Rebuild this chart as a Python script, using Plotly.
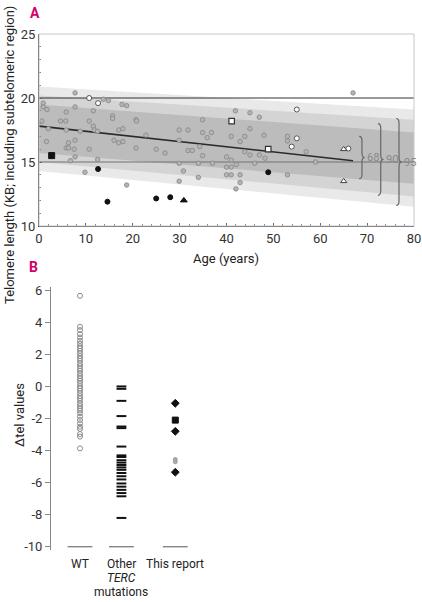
import numpy as np
import plotly.graph_objects as go

W, H = 422, 602
FONT = "Roboto, Liberation Sans, sans-serif"
MAG = "#d1006b"

# ---------------- Panel A data ----------------
gray_age = [0.9, 0.9, 1.7, 7.7, 7.7, 5.8, 11.6, 0.6, 4.6, 5.7, 10.7, 11.6, 11.8, 12.5, 15.7, 15.7,
            5.8, 8.8, 17.0, 17.9, 1.6, 6.3, 7.7, 5.8, 6.3, 7.5, 10.7, 16.0, 17.0, 17.9, 7.7, 6.7,
            12.5, 9.8, 18.7, 20.7, 20.7, 22.8, 25.0, 26.9, 29.9, 31.8, 29.9, 29.9, 30.8, 29.9,
            31.8, 32.7, 34.3, 34.9, 34.9, 35.9, 36.8, 34.9, 34.0, 34.0, 37.0, 41.9, 45.0, 47.0,
            45.0, 41.0, 42.9, 43.9, 48.0, 43.9, 45.0, 47.0, 48.2, 40.0, 41.0, 42.1, 40.0, 41.0,
            40.0, 41.0, 42.9, 42.9, 42.0, 53.0, 53.0, 57.0, 59.0, 46.0, 67.0, 13.7, 14.8,
            17.7, 18.7, 53.0, 2.0, 20.8]
gray_tel = [19.6, 19.3, 19.1, 20.4, 19.3, 18.9, 19.0, 18.2, 18.2, 18.2, 18.2, 17.8, 17.5, 17.4, 18.6, 18.4,
            17.5, 17.4, 17.5, 17.6, 16.6, 16.5, 16.7, 16.1, 16.1, 16.0, 16.0, 16.7, 16.5, 16.6, 15.4, 15.1,
            15.2, 14.2, 13.2, 18.3, 16.1, 17.1, 16.0, 15.7, 17.5, 17.5, 16.7, 14.9, 14.3, 13.5,
            15.9, 15.9, 16.2, 18.3, 17.3, 16.9, 17.3, 15.5, 14.9, 13.8, 14.9, 19.0, 18.85, 18.5,
            17.6, 17.0, 16.6, 17.0, 17.1, 15.8, 15.55, 15.55, 15.3, 15.4, 15.15, 14.8, 14.6, 14.6,
            14.0, 14.0, 14.0, 13.4, 12.9, 17.0, 16.65, 15.8, 15.0, 14.9, 20.4, 19.9, 19.8,
            19.5, 19.4, 14.0, 17.6, 18.2]
open_circ_age = [10.7, 12.6, 55.0, 55.0, 53.9, 66.0]
open_circ_tel = [20.0, 19.6, 19.1, 16.85, 16.2, 16.05]
open_sq_age = [41.1, 48.9]
open_sq_tel = [18.2, 16.0]
black_circ_age = [12.6, 14.6, 25.0, 28.0, 48.9]
black_circ_tel = [14.45, 11.9, 12.15, 12.25, 14.2]
black_sq_age = [2.7]
black_sq_tel = [15.5]
black_tri_age = [30.9]
black_tri_tel = [12.0]
open_tri_age = [65.0, 65.0]
open_tri_tel = [16.0, 13.5]

# regression line of plotted points
reg_intercept, reg_slope, reg_end = 17.8, -0.0403, 67.0
# percentile bands: centre and half widths at age 0 and age 80
band_centre = (17.6, 15.3)
band_names = ["95", "90", "68"]
band_half0 = [3.3, 2.6, 1.9]
band_half80 = [3.8, 3.0, 2.0]
band_colors = ["#e9e9e9", "#d4d4d4", "#bcbcbc"]
# bracket (curly brace) positions and spans
brace_age = [68.3, 72.3, 76.2]
brace_top = [17.0, 18.0, 18.4]
brace_bot = [13.7, 12.4, 11.6]
brace_lab = ["68", "90", "95"]

# ---------------- Panel B data ----------------
cat_lines = [["WT"], ["Other", "<i>TERC</i>", "mutations"], ["This report"]]
cat_pos = [1.0, 2.0, 3.3]
wt_vals = [5.65, 3.72, 3.51, 3.26, 3.05, 2.85, 2.68, 2.51, 2.37, 2.22, 2.06, 1.89, 1.74, 1.60,
           1.43, 1.27, 1.12, 0.98, 0.81, 0.65, 0.50, 0.35, 0.19, 0.02, -0.12, -0.27, -0.43,
           -0.60, -0.74, -0.89, -1.06, -1.22, -1.37, -1.51, -1.68, -1.89, -2.09, -2.30,
           -2.51, -2.65, -2.97, -3.13, -3.86]
terc_vals = [0.0, -0.15, -0.9, -1.85, -2.5, -2.6, -3.75, -4.3, -4.4, -4.6, -4.75, -4.9, -5.05,
             -5.2, -5.4, -5.6, -5.8, -6.05, -6.25, -6.45, -6.65, -6.85, -8.2]
rep_diamond = [-1.05, -2.8, -5.35]
rep_square = [-2.1]
rep_gray = [-4.55, -4.7]

fig = go.Figure()

# bands
ages = np.array([0.0, 80.0])
cen = np.array(band_centre)
for nm, h0, h80, col in zip(band_names, band_half0, band_half80, band_colors):
    hw = np.array([h0, h80])
    xs = np.concatenate([ages, ages[::-1]])
    ys = np.concatenate([cen + hw, (cen - hw)[::-1]])
    fig.add_trace(go.Scatter(x=xs, y=ys, fill="toself", fillcolor=col, mode="lines",
                             line=dict(width=0), hoverinfo="skip", showlegend=False,
                             xaxis="x", yaxis="y"))

# reference horizontal lines at 20 and 15
fig.add_trace(go.Scatter(x=[0, 80], y=[20, 20], mode="lines", line=dict(color="#333", width=1),
                         showlegend=False, xaxis="x", yaxis="y"))
fig.add_trace(go.Scatter(x=[0, 80], y=[15, 15], mode="lines", line=dict(color="#707070", width=1.2),
                         showlegend=False, xaxis="x", yaxis="y"))
# regression
rx = np.array([0.0, reg_end])
fig.add_trace(go.Scatter(x=rx, y=reg_intercept + reg_slope * rx, mode="lines",
                         line=dict(color="#2a2a2a", width=1.6), showlegend=False,
                         xaxis="x", yaxis="y"))

def pts(x, y, symbol, size, fill, line, lw=1, xa="x", ya="y"):
    fig.add_trace(go.Scatter(x=x, y=y, mode="markers", showlegend=False, xaxis=xa, yaxis=ya,
                             marker=dict(symbol=symbol, size=size, color=fill,
                                         line=dict(color=line, width=lw)), cliponaxis=False))

pts(gray_age, gray_tel, "circle", 4.5, "#b4b4b4", "#858585", 0.8)
pts(open_circ_age, open_circ_tel, "circle", 5, "white", "#555", 1)
pts(open_sq_age, open_sq_tel, "square", 5.5, "white", "#333", 1.2)
pts(open_tri_age, open_tri_tel, "triangle-up", 5.5, "white", "#444", 1)
pts(black_circ_age, black_circ_tel, "circle", 5, "#111", "#111", 1)
pts(black_sq_age, black_sq_tel, "square", 6, "#111", "#111", 1)
pts(black_tri_age, black_tri_tel, "triangle-up", 6, "#111", "#111", 1)

# braces
shapes = []
annotations = []
w, d = 0.6, 0.35
for xa, yt, yb, lab in zip(brace_age, brace_top, brace_bot, brace_lab):
    ym = (yt + yb) / 2
    p = (f"M {xa},{yt} Q {xa+w},{yt} {xa+w},{yt-d} L {xa+w},{ym+d} "
         f"Q {xa+w},{ym} {xa+2*w},{ym} Q {xa+w},{ym} {xa+w},{ym-d} "
         f"L {xa+w},{yb+d} Q {xa+w},{yb} {xa},{yb}")
    shapes.append(dict(type="path", path=p, xref="x", yref="y",
                       line=dict(color="#666", width=1.2)))
    annotations.append(dict(x=xa + 2 * w + 0.1, y=ym, xref="x", yref="y", text=lab,
                            showarrow=False, xanchor="left", yanchor="middle",
                            font=dict(family=FONT, size=11, color="#888")))

# frame for panel A
shapes.append(dict(type="rect", xref="x domain", yref="y domain", x0=0, x1=1, y0=0, y1=1,
                   line=dict(color="#c8c8c8", width=1), layer="above"))

# ---------------- Panel B traces ----------------
pts([cat_pos[0]] * len(wt_vals), wt_vals, "circle-open", 5, "#8a8a8a", "#8a8a8a", 1, "x2", "y2")
pts([cat_pos[1]] * len(terc_vals), terc_vals, "line-ew", 7, "#111", "#111", 2, "x2", "y2")
pts([cat_pos[2]] * len(rep_diamond), rep_diamond, "diamond", 6, "#111", "#111", 1, "x2", "y2")
pts([cat_pos[2]] * len(rep_square), rep_square, "square", 6, "#111", "#111", 1, "x2", "y2")
pts([cat_pos[2]] * len(rep_gray), rep_gray, "circle", 4, "#aaa", "#999", 0.8, "x2", "y2")

# baseline segments at -10 under each category
for cp in cat_pos:
    shapes.append(dict(type="line", xref="x2", yref="y2", x0=cp - 0.3, x1=cp + 0.3,
                       y0=-10, y1=-10, line=dict(color="#555", width=1)))

for cp, lines in zip(cat_pos, cat_lines):
    for i, ln in enumerate(lines):
        annotations.append(dict(x=cp, y=1 - (564 + 14 * i) / H, xref="x2", yref="paper",
                                text=ln, showarrow=False, xanchor="center", yanchor="middle",
                                font=dict(family=FONT, size=12, color="#222")))

# panel letters & titles
annotations += [
    dict(x=35 / W, y=1 - 13 / H, xref="paper", yref="paper", text="<b>A</b>", showarrow=False,
         xanchor="center", yanchor="middle", font=dict(family=FONT, size=14, color=MAG)),
    dict(x=33 / W, y=1 - 267 / H, xref="paper", yref="paper", text="<b>B</b>", showarrow=False,
         xanchor="center", yanchor="middle", font=dict(family=FONT, size=14, color=MAG)),
    dict(x=9 / W, y=1 - 155 / H, xref="paper", yref="paper",
         text="Telomere length (KB; including subtelomeric region)", textangle=-90,
         showarrow=False, xanchor="center", yanchor="middle",
         font=dict(family=FONT, size=13, color="#222")),
    dict(x=226 / W, y=1 - 258 / H, xref="paper", yref="paper", text="Age (years)",
         showarrow=False, xanchor="center", yanchor="middle",
         font=dict(family=FONT, size=13, color="#222")),
    dict(x=19 / W, y=1 - 415 / H, xref="paper", yref="paper", text="Δtel values",
         textangle=-90, showarrow=False, xanchor="center", yanchor="middle",
         font=dict(family=FONT, size=13, color="#222")),
]

tickfont = dict(family=FONT, size=13, color="#333")
fig.update_layout(
    width=W, height=H, margin=dict(l=0, r=0, t=0, b=0, autoexpand=False),
    paper_bgcolor="white", plot_bgcolor="white", showlegend=False,
    xaxis=dict(domain=[39 / W, 414 / W], range=[0, 80], anchor="y", automargin=False,
               tickvals=[0, 10, 20, 30, 40, 50, 60, 70, 80], showgrid=False, zeroline=False,
               showline=True, linecolor="#444", linewidth=1, ticks="inside", ticklen=3,
               tickcolor="#666", tickfont=tickfont,
               minor=dict(dtick=2, ticks="inside", ticklen=2, tickcolor="#888")),
    yaxis=dict(domain=[1 - 226 / H, 1 - 34 / H], range=[10, 25], anchor="x", automargin=False,
               tickvals=[10, 15, 20, 25], showgrid=False, zeroline=False,
               showline=True, linecolor="#444", linewidth=1, ticks="inside", ticklen=3,
               tickcolor="#666", tickfont=tickfont,
               minor=dict(dtick=1, ticks="inside", ticklen=2, tickcolor="#888")),
    xaxis2=dict(domain=[51 / W, 225 / W], range=[0.3, 4.5], anchor="y2", visible=False,
                automargin=False),
    yaxis2=dict(domain=[1 - 550 / H, 1 - 287 / H], range=[-10.2, 6.2], anchor="x2",
                automargin=False,
                tickvals=[6, 4, 2, 0, -2, -4, -6, -8, -10],
                ticktext=["6", "4", "2", "0", "-2", "-4", "-6", "-8", "-10"],
                showgrid=False, zeroline=False, showline=True, linecolor="#888",
                linewidth=1, ticks="outside", ticklen=5, tickcolor="#888", tickfont=tickfont),
    shapes=shapes, annotations=annotations,
)

fig.write_html("out.html", config={"displayModeBar": False},
               post_script="document.body.style.margin='0';")
